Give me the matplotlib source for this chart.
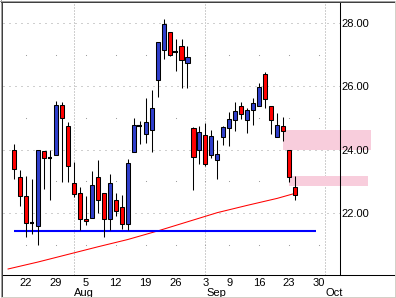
import pandas as pd
import matplotlib
matplotlib.use('Agg')
import matplotlib.pyplot as plt
from matplotlib.lines import Line2D
from matplotlib.patches import Rectangle
from matplotlib.transforms import IdentityTransform, blended_transform_factory

plt.rcParams['font.family'] = ['Liberation Sans', 'DejaVu Sans']

# trading calendar, Labor Day off
trading_days = pd.bdate_range('2002-07-15', '2002-10-11')
trading_days = trading_days[trading_days != pd.Timestamp('2002-09-02')]

candle_dates = trading_days[(trading_days >= '2002-07-18') & (trading_days <= '2002-09-24')]

opens = [23.98, 23.13, 22.53, 21.68, 21.58, 23.95, 23.72, 23.83, 25.41, 24.74,
         22.94, 22.62, 21.81, 21.83, 23.13, 22.62, 21.80, 22.40, 22.18, 21.64,
         23.94, 24.73, 24.49, 24.61, 26.19, 27.14, 27.71, 27.09, 27.26, 26.73,
         24.67, 23.98, 24.45, 23.84, 23.68, 24.39, 24.67, 24.93, 25.37, 24.93,
         25.24, 25.37, 26.38, 25.37, 24.39, 24.74, 23.98, 22.81]
highs = [24.18, 23.37, 23.17, 23.06, 24.00, 23.95, 23.98, 25.54, 25.51, 24.87,
         23.62, 22.83, 22.52, 23.34, 23.67, 22.62, 23.23, 22.64, 22.57, 23.71,
         25.00, 24.91, 25.63, 25.88, 27.39, 28.13, 27.71, 27.49, 27.49, 27.27,
         24.72, 24.76, 24.83, 24.62, 24.31, 24.75, 25.18, 25.50, 25.50, 25.31,
         25.62, 26.10, 26.45, 25.37, 25.15, 25.02, 23.98, 23.17]
lows = [23.08, 22.23, 21.25, 21.34, 20.98, 22.77, 22.41, 23.83, 22.99, 22.99,
        22.49, 21.46, 21.62, 21.83, 21.99, 21.23, 21.46, 21.91, 21.49, 21.46,
        23.94, 24.17, 24.20, 23.94, 25.67, 26.87, 26.97, 26.48, 25.96, 25.96,
        22.73, 23.55, 23.49, 23.75, 23.07, 24.15, 24.12, 24.60, 24.98, 24.54,
        24.77, 25.37, 25.31, 24.49, 24.39, 24.28, 22.97, 22.40]
closes = [23.38, 22.55, 21.68, 21.68, 23.98, 23.75, 23.72, 25.41, 24.99, 23.48,
          22.61, 21.80, 21.73, 22.87, 22.40, 21.80, 22.94, 22.05, 21.64, 23.58,
          24.77, 24.73, 24.86, 25.31, 27.39, 27.96, 27.00, 27.09, 26.82, 26.92,
          23.76, 24.55, 23.56, 24.42, 23.85, 24.71, 24.96, 25.21, 25.12, 25.24,
          25.46, 25.97, 25.59, 24.93, 24.77, 24.58, 23.12, 22.56]

ma_dates = ['2002-07-17', '2002-07-24', '2002-07-31', '2002-08-07', '2002-08-14', '2002-08-21',
            '2002-08-28', '2002-09-05', '2002-09-12', '2002-09-19', '2002-09-24']
ma_values = [20.23, 20.45, 20.69, 20.93, 21.16, 21.43, 21.72, 22.01, 22.24, 22.46, 22.62]

support_level = 21.44
support_from, support_to = '2002-07-18', '2002-09-27'

zone_starts = ['2002-09-20', '2002-09-23']
zone_lows = [24.00, 22.85]
zone_highs = [24.63, 23.17]
zone_lengths = [14.7, 13.2]  # trading days

week_ticks = ['2002-07-22', '2002-07-29', '2002-08-05', '2002-08-12', '2002-08-19', '2002-08-26',
              '2002-09-03', '2002-09-09', '2002-09-16', '2002-09-23', '2002-09-30']
week_labels = ['22', '29', '5', '12', '19', '26', '3', '9', '16', '23', '30']
month_starts = ['2002-08-01', '2002-09-03', '2002-10-01']
month_labels = ['Aug', 'Sep', 'Oct']
price_ticks = [22, 24, 26, 28]
minor_levels = [21, 23, 25, 27]


def pos(d):
    return trading_days.get_loc(pd.Timestamp(d))


UP = '#2f3fcc'
DOWN = '#ff0000'
GRID = '#a0a0a0'

fig = plt.figure(figsize=(3.96, 2.98), dpi=100)
ax = fig.add_axes([3 / 396, 23 / 298, 336.7 / 396, 272 / 298])
ax.set_xlim(1.15, 57.45)
ax.set_ylim(20.04, 28.63)

# grid
for lv in price_ticks:
    ax.axhline(lv, color=GRID, lw=0.72, ls=(0, (1, 5)), zorder=0)
for d in month_starts:
    ax.axvline(pos(d), color=GRID, lw=0.72, ls=(0, (1, 2)), zorder=0)
wx = [pos(d) for d in week_ticks for _ in minor_levels]
wy = [lv for _ in week_ticks for lv in minor_levels]
ax.plot(wx, wy, ls='none', marker='s', ms=0.75, mew=0, color=GRID, zorder=0)

# zones
for d, lo, hi, n in zip(zone_starts, zone_lows, zone_highs, zone_lengths):
    ax.add_patch(Rectangle((pos(d), lo), n, hi - lo, facecolor='#f8cddc',
                           edgecolor='none', clip_on=False, zorder=1))

# moving average and support line
ax.plot([pos(d) for d in ma_dates], ma_values, color='red', lw=0.75, zorder=2)
ax.hlines(support_level, pos(support_from), pos(support_to) + 0.5,
          color='#0000ff', lw=1.5, zorder=2)

# candles
xs = [pos(d) for d in candle_dates]
ax.vlines(xs, lows, highs, color='black', lw=0.75, zorder=3)
for x, o, c in zip(xs, opens, closes):
    if o == c:
        ax.hlines(o, x - 0.4, x + 0.4, color='black', lw=1.5, zorder=4)
    else:
        ax.bar(x, abs(c - o), bottom=min(o, c), width=0.68,
               color=UP if c > o else DOWN, edgecolor='black', linewidth=0.75, zorder=4)

# axes styling
for s in ['left', 'top', 'bottom']:
    ax.spines[s].set_visible(False)
ax.spines['right'].set_linewidth(0.75)
ax.spines['right'].set_zorder(5)
ax.add_line(Line2D([0, 391 / 336.7], [0, 0], transform=ax.transAxes, color='black',
                   lw=0.75, clip_on=False, zorder=5))

ax.yaxis.tick_right()
ax.set_yticks(price_ticks, [f'{v:.2f}' for v in price_ticks])
ax.set_xticks([pos(d) for d in week_ticks], week_labels)
ax.tick_params(axis='y', length=0, pad=1.2, labelsize=8)
ax.tick_params(axis='x', length=0, pad=2.2, labelsize=8)

trans = blended_transform_factory(ax.transData, ax.transAxes)
for d, m in zip(month_starts, month_labels):
    ax.text(pos(d) + 0.1, -0.0755, m, transform=trans, ha='left', va='baseline', fontsize=8)

# window-style frame
W, H = 396, 298
T = IdentityTransform()
frame = [
    ([0.5, 0.5], [0, H], '#a0a0a0'),
    ([1.5, 1.5], [1, H - 1], '#404040'),
    ([0, W], [H - 0.5, H - 0.5], '#a0a0a0'),
    ([1, W - 1], [H - 1.5, H - 1.5], '#404040'),
    ([W - 0.5, W - 0.5], [0, H], '#d4d0c8'),
    ([W - 1.5, W - 1.5], [1, H - 1], '#d4d0c8'),
    ([0, W], [0.5, 0.5], '#d4d0c8'),
    ([1, W - 1], [1.5, 1.5], '#d4d0c8'),
]
for fx, fy, col in frame:
    fig.add_artist(Line2D(fx, fy, transform=T, color=col, lw=0.72))

fig.savefig('out.png', dpi=100)
